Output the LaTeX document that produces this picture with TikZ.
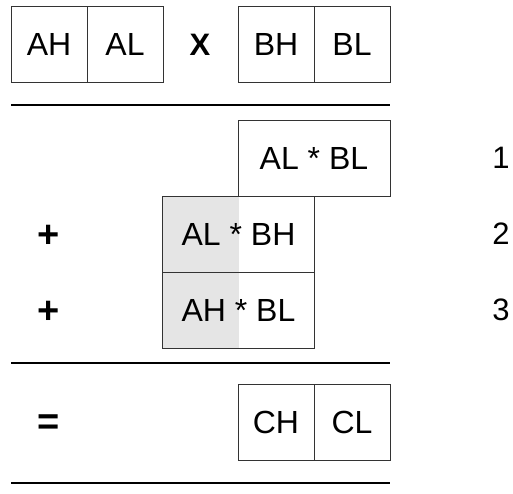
\documentclass[tikz,border=0pt]{standalone}
\usepackage{fontspec}
\setmainfont{Liberation Sans}
\begin{document}
\begin{tikzpicture}[x=1pt,y=-1pt,
  cell/.style={draw=black!80,line width=0.9pt,minimum width=76pt,minimum height=76pt,inner sep=0pt,font=\fontsize{32}{36}\selectfont},
  wide/.style={cell,minimum width=152pt},
  op/.style={font=\fontsize{31}{36}\selectfont\bfseries},
  bigop/.style={font=\fontsize{38}{42}\selectfont\bfseries},
  num/.style={font=\fontsize{31}{36}\selectfont},
  rule/.style={line width=1.6pt}]
\useasboundingbox (0,0) rectangle (513,494);
% top row
\node[cell] (ah) at (49,44.5) {AH};
\node[cell] (al) at (125,44.5) {AL};
\node[op] (x) at (200,45) {X};
\node[cell] (bh) at (276,44.5) {BH};
\node[cell] (bl) at (352,44.5) {BL};
\coordinate (r1a) at (11,105); \coordinate (r1b) at (390,105);
\draw[rule] (r1a) -- (r1b);
% partial products
\node[wide] (p1) at (314,158) {AL * BL};
\fill[black!10] (163,196) rectangle (238.5,348);
\node[wide] (p2) at (238.5,234) {AL * BH};
\node[wide] (p3) at (238.5,310) {AH * BL};
\node[bigop] (plus2) at (49,236) {+};
\node[bigop] (plus3) at (49,312) {+};
\node[num] (n1) at (501,158) {1};
\node[num] (n2) at (501,234) {2};
\node[num] (n3) at (501,310) {3};
\coordinate (r2a) at (11,363); \coordinate (r2b) at (390,363);
\draw[rule] (r2a) -- (r2b);
% result
\node[bigop] (eq) at (49,425) {=};
\node[cell] (ch) at (276,422.5) {CH};
\node[cell] (cl) at (352,422.5) {CL};
\coordinate (r3a) at (11,483); \coordinate (r3b) at (390,483);
\draw[rule] (r3a) -- (r3b);
\end{tikzpicture}
\end{document}
